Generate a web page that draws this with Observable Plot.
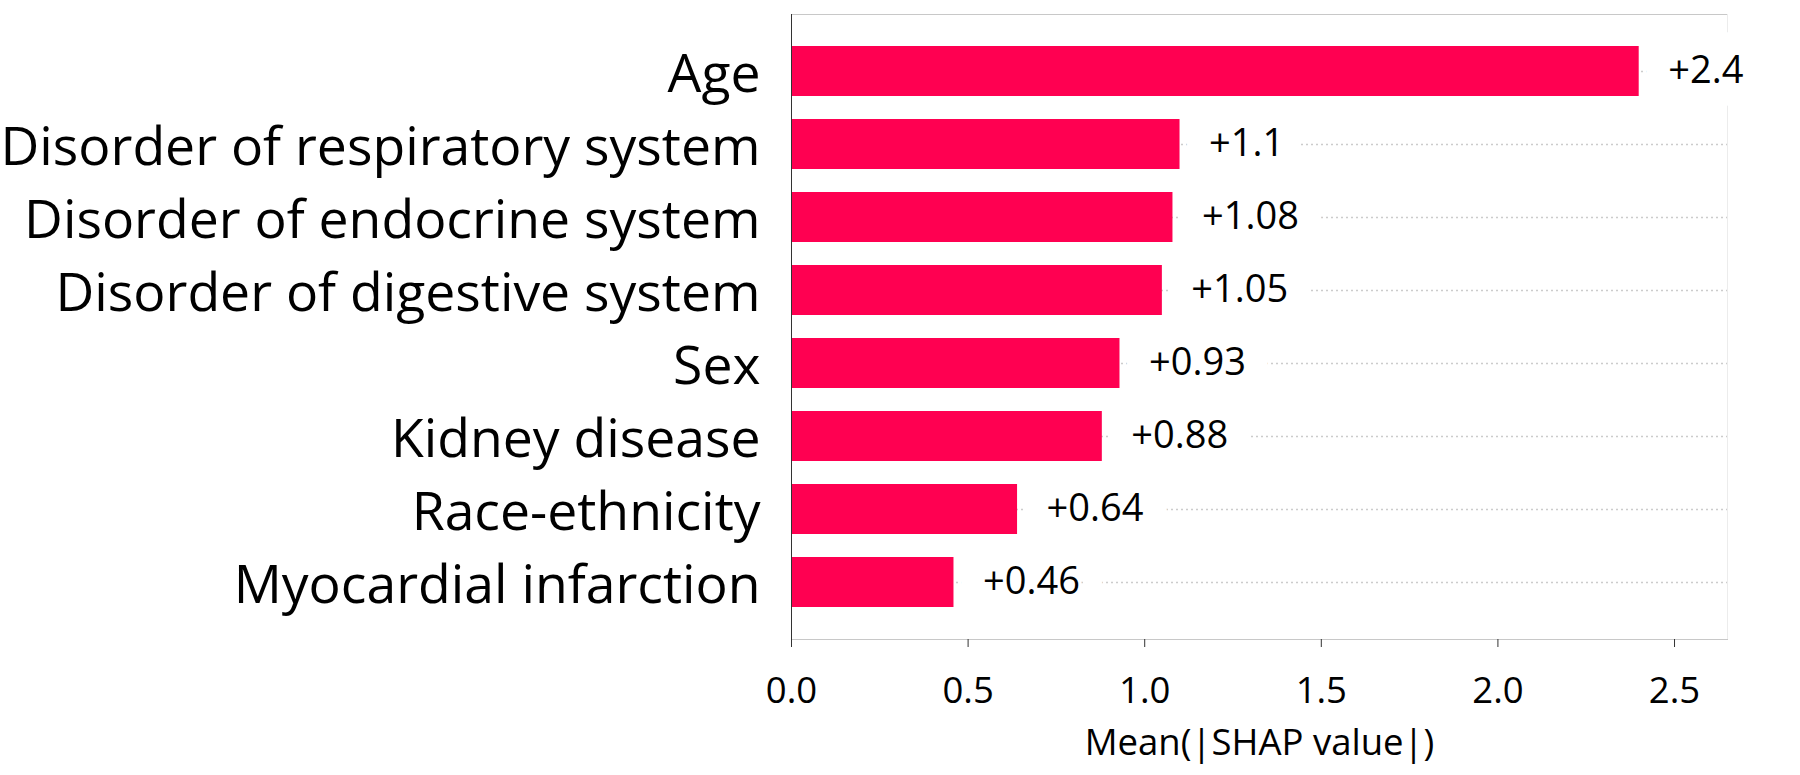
<!DOCTYPE html>
<html>
<head>
<meta charset="utf-8">
<script src="https://cdn.jsdelivr.net/npm/d3@7"></script>
<script src="https://cdn.jsdelivr.net/npm/@observablehq/plot@0.6"></script>
<style>
  html, body { margin: 0; padding: 0; background: #fff; }
  #chart svg { display: block; }
</style>
</head>
<body>
<div id="chart"></div>
<script>
// Data
const features = [
  "Age",
  "Disorder of respiratory system",
  "Disorder of endocrine system",
  "Disorder of digestive system",
  "Sex",
  "Kidney disease",
  "Race-ethnicity",
  "Myocardial infarction"
];
const values = [2.4, 1.1, 1.08, 1.05, 0.93, 0.88, 0.64, 0.46];
const valueLabels = ["+2.4", "+1.1", "+1.08", "+1.05", "+0.93", "+0.88", "+0.64", "+0.46"];
const xTicks = [0, 0.5, 1.0, 1.5, 2.0, 2.5];
const xTitle = "Mean(|SHAP value|)";
const xMax = 2.65;

const data = features.map((f, i) => ({ feature: f, value: values[i], label: valueLabels[i] }));

const chart = Plot.plot({
  width: 1800,
  height: 775,
  marginLeft: 791,
  marginRight: 73,
  marginTop: 14,
  marginBottom: 136,
  style: { fontFamily: "'Open Sans', Lato, sans-serif", background: "#fff", color: "#000" },
  x: { domain: [0, xMax] },
  y: { domain: features, paddingInner: 0.32, paddingOuter: 0.4, align: 0.5 },
  marks: [
    Plot.frame({ stroke: "#c8c8c8" }),
    Plot.ruleX([xMax], { stroke: "#ececec" }),
    Plot.ruleY(data, { y: "feature", x1: 0, x2: xMax, stroke: "#cccccc", strokeWidth: 1.5, strokeDasharray: "2,3" }),
    Plot.barX(data, { y: "feature", x: "value", fill: "#ff0051" }),
    Plot.ruleX([0], { stroke: "#333" }),
    Plot.text(data, {
      y: "feature", x: "value", text: "label",
      textAnchor: "start", dx: 29, dy: -1,
      fontSize: 38, fill: "#000",
      stroke: "#fff", strokeWidth: 48, strokeLinejoin: "round"
    }),
    Plot.axisX({
      ticks: xTicks, tickFormat: d3.format(".1f"),
      tickSize: 8, tickPadding: 30, fontSize: 36.5,
      stroke: "#333", fill: "#000",
      label: xTitle, labelAnchor: "center", labelArrow: "none", labelOffset: 115,
      line: true
    }),
    Plot.axisY({ tickSize: 0, tickPadding: 31, fontSize: 53.5, dy: 3, fill: "#000", label: null })
  ]
});
document.getElementById("chart").appendChild(chart);
</script>
</body>
</html>
